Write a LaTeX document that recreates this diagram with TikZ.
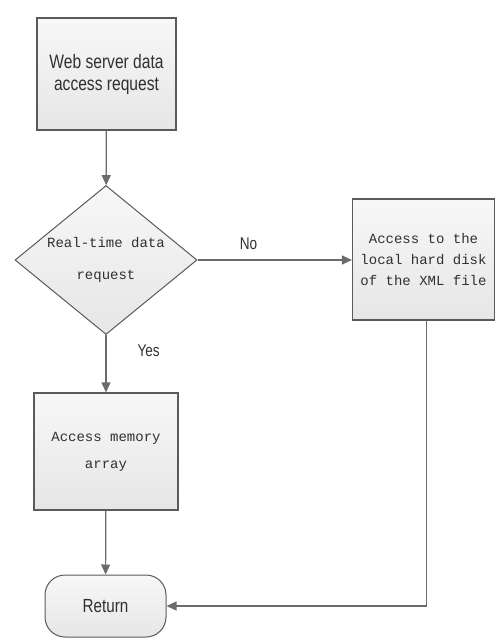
\documentclass[tikz,border=0pt]{standalone}
\usepackage{fontspec}
\usetikzlibrary{shapes.geometric,arrows.meta}
\newfontfamily\narrowsans[FakeStretch=0.8]{Liberation Sans}
\newfontfamily\monof{Liberation Mono}
\definecolor{edge}{HTML}{5A5A5A}
\definecolor{ink}{HTML}{303030}
\definecolor{boxbot}{HTML}{E6E6E6}
\tikzset{
  box/.style={draw=edge, line width=1.2pt, top color=white!97!black, bottom color=boxbot,
    rectangle, inner sep=0pt, align=center, text=ink},
  decide/.style={draw=edge, line width=1pt, top color=white!97!black, bottom color=boxbot,
    diamond, inner sep=-20pt, align=center, text=ink},
  endbox/.style={draw=edge, line width=1pt, top color=white!97!black, bottom color=boxbot,
    rectangle, rounded corners=20pt, inner sep=0pt, align=center, text=ink},
  conn/.style={draw=edge!90, line width=1.2pt, -{Triangle[length=10pt,width=9pt]}},
  lbl/.style={text=ink, font=\narrowsans\fontsize{17}{18}\selectfont, inner sep=0pt}
}
\begin{document}
\begin{tikzpicture}[x=1pt,y=-1pt]
\useasboundingbox (0,0) rectangle (495,639);
\node[box, minimum width=139pt, minimum height=112pt,
  font=\narrowsans\fontsize{19.5}{22}\selectfont] (web) at (106.5,74) {Web server data\\access request};
\node[decide, minimum width=182pt, minimum height=149pt,
  font=\monof\fontsize{14}{32}\selectfont] (dec) at (106,260) {Real-time data\\request};
\node[box, minimum width=142pt, minimum height=121pt,
  font=\monof\fontsize{14}{21}\selectfont] (xml) at (423.5,259.5) {Access to the\\local hard disk\\of the XML file};
\node[box, minimum width=144pt, minimum height=117pt,
  font=\monof\fontsize{14}{27}\selectfont] (mem) at (106,451.5) {Access memory\\array};
\node[endbox, minimum width=121pt, minimum height=62pt,
  font=\narrowsans\fontsize{19}{20}\selectfont] (ret) at (105.5,606) {Return};
\draw[conn] (web) -- (dec);
\draw[conn] (dec.east) -- node[lbl, pos=0.33, above=10pt] (no) {No} (xml.west |- dec.east);
\draw[conn] (dec.south) -- node[lbl, pos=0.27, anchor=west, xshift=31pt] (yes) {Yes} (mem.north);
\draw[conn] (mem) -- (ret);
\draw[conn] ([xshift=3pt]xml.south) |- (ret.east);
\end{tikzpicture}
\end{document}
